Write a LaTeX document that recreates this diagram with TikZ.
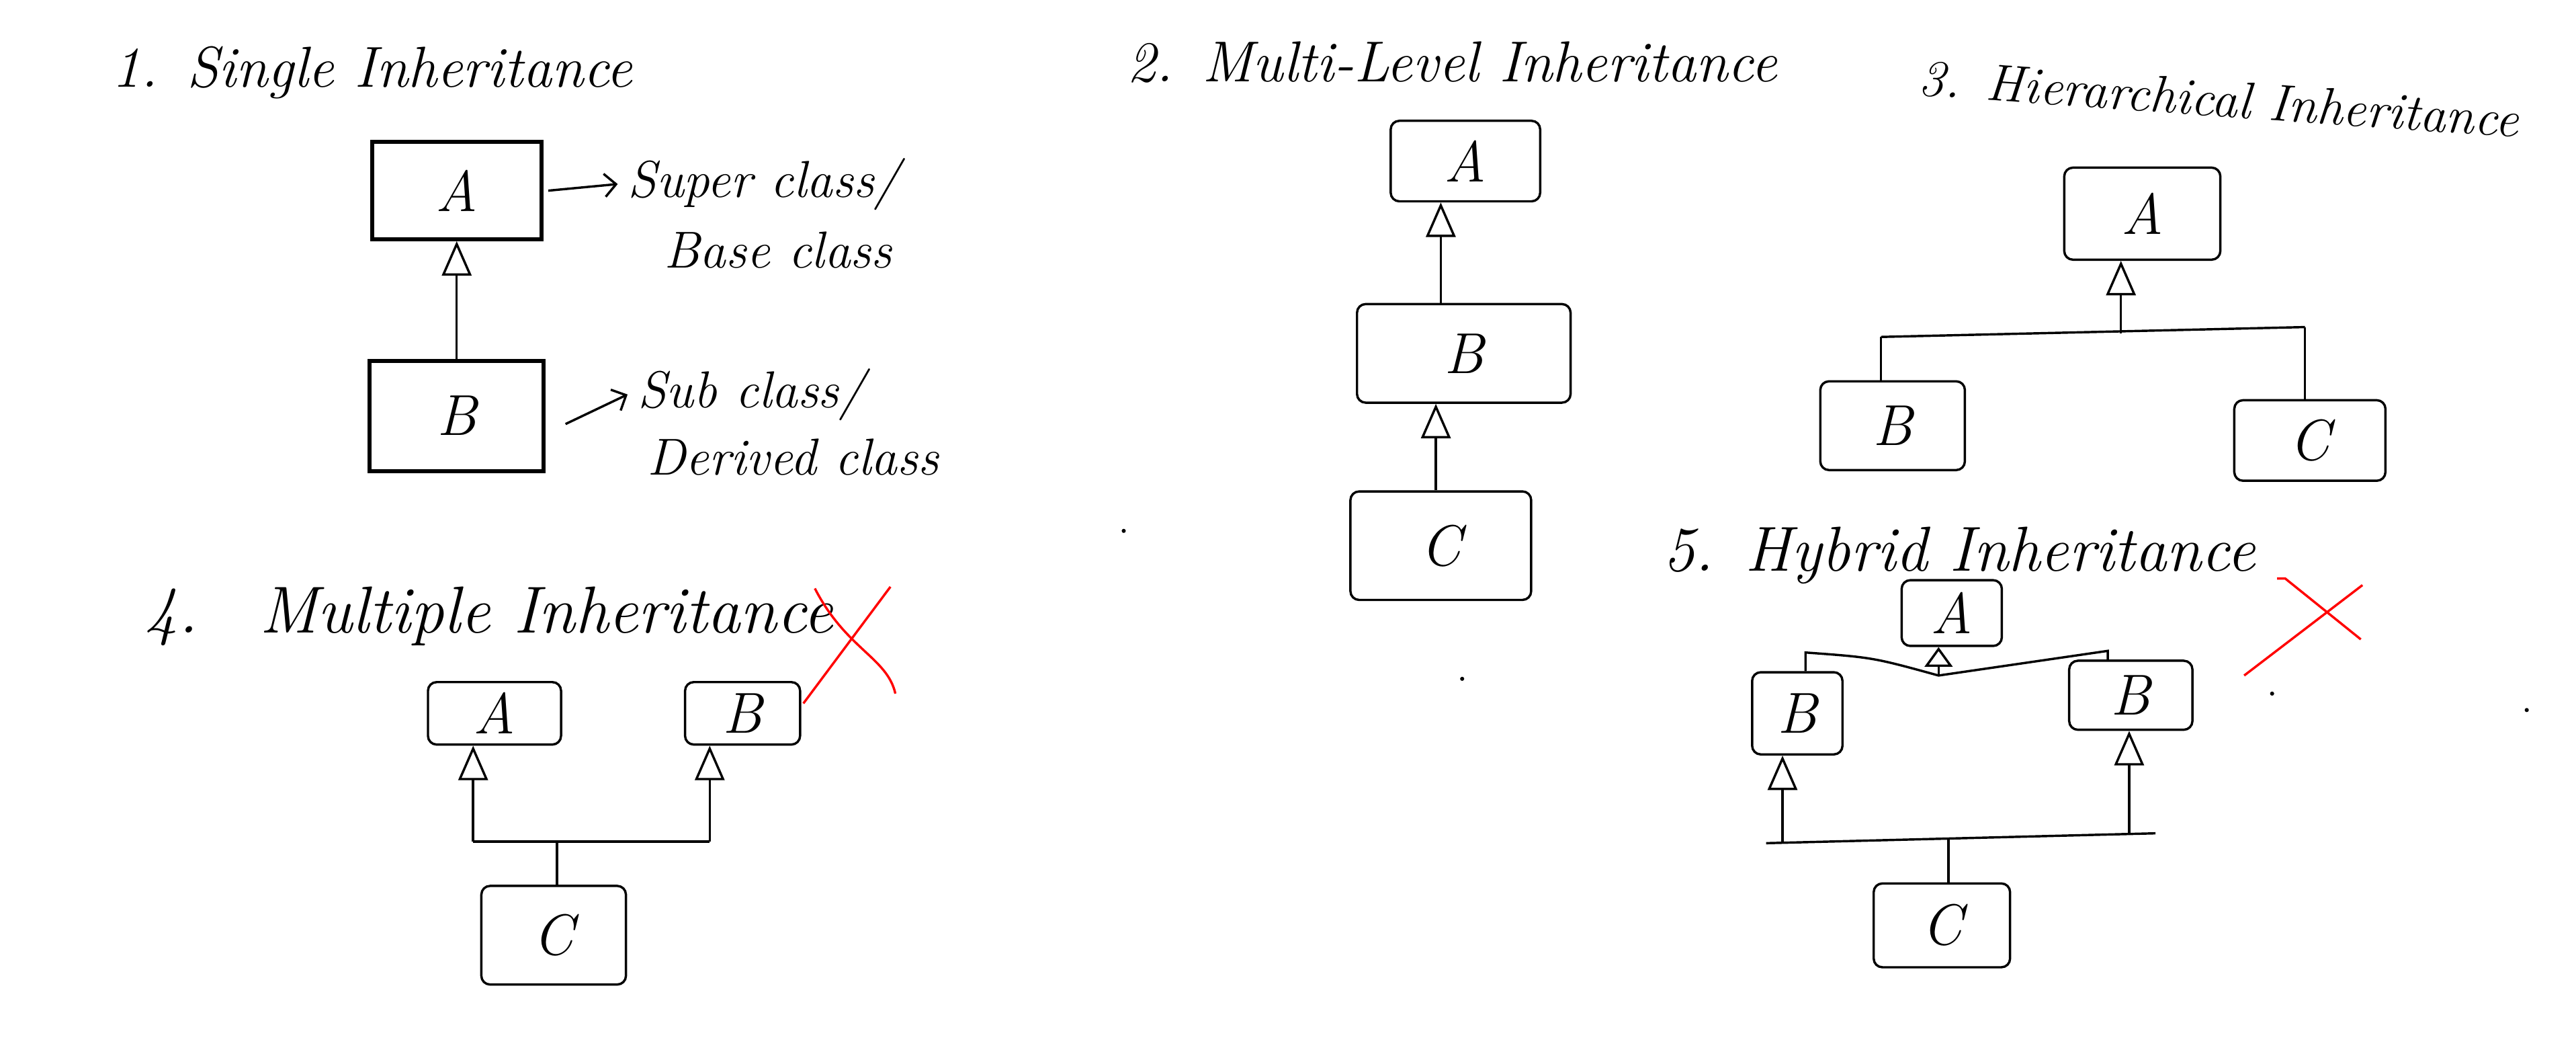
\documentclass[tikz,border=0pt]{standalone}
\usetikzlibrary{arrows.meta}
\begin{document}
\begin{tikzpicture}[x=0.02cm,y=-0.02cm,
  lbl/.style={font=\fontsize{20}{24}\selectfont\itshape},
  title/.style={anchor=west,font=\fontsize{20}{24}\selectfont\itshape},
  note/.style={anchor=west,font=\fontsize{18}{21}\selectfont\itshape},
  wh/.style 2 args={minimum width=#1*0.02cm,minimum height=#2*0.02cm,inner sep=0pt},
  crisp/.style={draw,line width=1.4pt,lbl},
  sketch/.style={draw,line width=0.8pt,rounded corners=3pt,lbl},
  wire/.style={line width=0.8pt},
  inh/.style={wire,-{Triangle[open,length=0.42cm,width=0.36cm,line width=0.8pt]}},
  inhsmall/.style={wire,-{Triangle[open,length=0.24cm,width=0.34cm,line width=0.8pt]}},
  ann/.style={wire,-{Straight Barb[length=0.14cm,width=0.28cm]}},
  cross/.style={draw=red,line width=0.8pt},
  speck/.style={fill=black,circle,inner sep=0pt,minimum size=0.05cm}
]
\fill[white] (0,0) rectangle (1568,641);
\useasboundingbox (0,0) rectangle (1568,641);

% ---------- 1. Single Inheritance ----------
\node[title] (t1) at (62,44) {1.\enspace Single Inheritance};
\node[crisp,wh={103}{59}] (A1) at (278,116) {A};
\node[crisp,wh={106}{67}] (B1) at (278,253) {B};
\draw[inh] (B1.north) -- (A1.south);
\node[note] (sup) at (376,112) {Super class/};
\node[note] (base) at (398,152) {Base class};
\node[note] (sub) at (382,240) {Sub class/};
\node[note] (der) at (388,278) {Derived class};
\draw[ann] ([xshift=0.06cm]A1.east) -- (sup.west);
\draw[ann] ([xshift=0.24cm,yshift=-0.1cm]B1.east) -- (sub.west);

% ---------- 2. Multi-Level Inheritance ----------
\node[title] (t2) at (680,38) {2.\enspace Multi-Level Inheritance};
\node[sketch,wh={91}{49}] (A2) at (892,98) {A};
\node[sketch,wh={130}{60}] (B2) at (891,215) {B};
\node[sketch,wh={110}{66}] (C2) at (877,332) {C};
\draw[inh] (B2.north -| 877,0) -- (A2.south -| 877,0);
\draw[inh] (C2.north -| 874,0) -- (B2.south -| 874,0);

% ---------- 3. Hierarchical Inheritance ----------
\node[title,rotate=-4,font=\fontsize{18}{21}\selectfont\itshape] (t3) at (1162,47) {3.\enspace Hierarchical Inheritance};
\node[sketch,wh={95}{56}] (A3) at (1304,130) {A};
\node[sketch,wh={88}{54}] (B3) at (1152,259) {B};
\node[sketch,wh={92}{49}] (C3) at (1406,268) {C};
\coordinate (j3) at (1291,203);
\coordinate (bl3) at (1145,205);
\coordinate (br3) at (1403,199);
\draw[wire] (bl3) -- (br3);
\draw[wire] (bl3) -- (bl3 |- B3.north);
\draw[wire] (br3) -- (br3 |- C3.north);
\draw[inh] (j3) -- (j3 |- A3.south);

% ---------- 4. Multiple Inheritance ----------
\node[title,font=\fontsize{23}{27}\selectfont\itshape] (t4) at (82,375) {4.\hspace{0.75cm}Multiple Inheritance};
\node[sketch,wh={81}{38}] (A4) at (301,434) {A};
\node[sketch,wh={70}{38}] (B4) at (452,434) {B};
\node[sketch,wh={88}{60}] (C4) at (337,569) {C};
\coordinate (la4) at (288,512);
\coordinate (ra4) at (432,512);
\coordinate (m4) at (339,512);
\draw[wire] (la4) -- (ra4);
\draw[inh] (la4) -- (la4 |- A4.south);
\draw[inh] (ra4) -- (ra4 |- B4.south);
\draw[wire] (m4) -- (m4 |- C4.north);
\coordinate (x4a) at (496,358); \coordinate (x4b) at (545,422);
\coordinate (x4c) at (542,357); \coordinate (x4d) at (489,428);
\draw[cross] (x4a) .. controls (515,395) and (540,400) .. (x4b);
\draw[cross] (x4c) -- (x4d);

% ---------- 5. Hybrid Inheritance ----------
\node[title,font=\fontsize{22}{26}\selectfont\itshape] (t5) at (1006,338) {5.\enspace Hybrid Inheritance};
\node[sketch,wh={61}{40}] (A5) at (1188,373) {A};
\node[sketch,wh={55}{50}] (BL5) at (1094,434) {B};
\node[sketch,wh={75}{42}] (BR5) at (1297,423) {B};
\node[sketch,wh={83}{51}] (C5) at (1182,563) {C};
\coordinate (j5) at (1180,411);
\coordinate (kl5) at (1099,397);
\coordinate (kr5) at (1283,396);
\draw[wire] (kl5 |- BL5.north) -- (kl5) .. controls (1140,400) .. (j5) -- (kr5) -- (kr5 |- BR5.north);
\draw[inhsmall] (j5) -- (j5 |- A5.south);
\coordinate (bl5) at (1075,513);
\coordinate (br5) at (1312,507);
\coordinate (sl5) at (1085,512);
\coordinate (sr5) at (1296,508);
\coordinate (m5) at (1186,510);
\draw[wire] (bl5) -- (br5);
\draw[inh] (sl5) -- (sl5 |- BL5.south);
\draw[inh] (sr5) -- (sr5 |- BR5.south);
\draw[wire] (m5) -- (m5 |- C5.north);
\coordinate (x5a) at (1391,352); \coordinate (x5b) at (1437,389);
\coordinate (x5c) at (1438,356); \coordinate (x5d) at (1366,411);
\draw[cross] (1386,352) -- (x5a) -- (x5b);
\draw[cross] (x5c) -- (x5d);

% stray specks
\node[speck] (d1) at (684,323) {};
\node[speck] (d2) at (890,413) {};
\node[speck] (d3) at (1383,422) {};
\node[speck] (d4) at (1538,432) {};
\end{tikzpicture}
\end{document}
